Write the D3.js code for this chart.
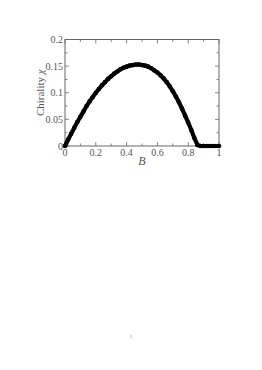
<!DOCTYPE html>
<html>
<head>
<meta charset="utf-8">
<script src="https://cdn.jsdelivr.net/npm/d3@7"></script>
<style>
  body { margin: 0; background: #fff; }
  text { font-family: "Liberation Serif", "DejaVu Serif", serif; fill: #555; }
</style>
</head>
<body>
<div id="chart"></div>
<script>
var bValues = [0, 0.02, 0.04, 0.06, 0.08, 0.10, 0.12, 0.14, 0.16, 0.18,
               0.20, 0.22, 0.24, 0.26, 0.28, 0.30, 0.32, 0.34, 0.36, 0.38,
               0.40, 0.42, 0.44, 0.46, 0.48, 0.50, 0.52, 0.54, 0.56, 0.58,
               0.60, 0.62, 0.64, 0.66, 0.68, 0.70, 0.72, 0.74, 0.76, 0.78,
               0.80, 0.82, 0.84, 0.86, 0.88, 0.90, 0.92, 0.94, 0.96, 0.98, 1.0];
var chirality = [0, 0.012, 0.023, 0.034, 0.045, 0.055, 0.065, 0.075, 0.084, 0.092,
                 0.100, 0.107, 0.114, 0.120, 0.126, 0.131, 0.136, 0.140, 0.144, 0.147,
                 0.149, 0.151, 0.152, 0.153, 0.153, 0.152, 0.151, 0.149, 0.146, 0.142,
                 0.138, 0.133, 0.127, 0.120, 0.112, 0.103, 0.093, 0.082, 0.070, 0.057,
                 0.044, 0.030, 0.015, 0.002, 0, 0, 0, 0, 0, 0, 0];
var xTicks = [0, 0.2, 0.4, 0.6, 0.8, 1];
var xTickLabels = ["0", "0.2", "0.4", "0.6", "0.8", "1"];
var yTicks = [0, 0.05, 0.1, 0.15, 0.2];
var yTickLabels = ["0", "0.05", "0.1", "0.15", "0.2"];

function main() {
    var width = 262, height = 370;
    var left = 65, right = 219, top = 39.5, bottom = 146;
    var svg = d3.select("#chart").append("svg")
                .attr("width", width).attr("height", height);

    var x = d3.scaleLinear().domain([0, 1]).range([left, right]);
    var y = d3.scaleLinear().domain([0, 0.2]).range([bottom, top]);
    var axisColor = "#666";

    // frame
    svg.append("rect").attr("x", left).attr("y", top)
       .attr("width", right - left).attr("height", bottom - top)
       .attr("fill", "none").attr("stroke", axisColor).attr("stroke-width", 1);

    // ticks pointing inward (major + minor)
    var xMinor = d3.range(0, 1.0001, 0.1);
    var yMinor = d3.range(0, 0.2001, 0.025);
    var tg = svg.append("g").attr("stroke", axisColor).attr("stroke-width", 0.8);
    xMinor.forEach(function(v, i) {
        var len = (i % 2 === 0) ? 4 : 2.5;
        tg.append("line").attr("x1", x(v)).attr("x2", x(v)).attr("y1", bottom).attr("y2", bottom - len);
        tg.append("line").attr("x1", x(v)).attr("x2", x(v)).attr("y1", top).attr("y2", top + len);
    });
    yMinor.forEach(function(v, i) {
        var len = (i % 2 === 0) ? 4 : 2.5;
        tg.append("line").attr("x1", left).attr("x2", left + len).attr("y1", y(v)).attr("y2", y(v));
        tg.append("line").attr("x1", right).attr("x2", right - len).attr("y1", y(v)).attr("y2", y(v));
    });

    // tick labels
    svg.append("g").selectAll("text").data(xTicks).enter().append("text")
       .attr("x", function(d) { return x(d); }).attr("y", bottom + 10)
       .attr("text-anchor", "middle").attr("font-size", 10)
       .text(function(d, i) { return xTickLabels[i]; });
    svg.append("g").selectAll("text").data(yTicks).enter().append("text")
       .attr("x", left - 2).attr("y", function(d) { return y(d) + 3.5; })
       .attr("text-anchor", "end").attr("font-size", 10)
       .text(function(d, i) { return yTickLabels[i]; });

    // axis titles
    svg.append("text").attr("x", x(0.5)).attr("y", bottom + 19)
       .attr("text-anchor", "middle").attr("font-size", 12).attr("font-style", "italic")
       .text("B");
    var yl = svg.append("text").attr("transform", "translate(44," + ((top + bottom) / 2) + ") rotate(-90)")
       .attr("text-anchor", "middle").attr("font-size", 11);
    yl.append("tspan").text("Chirality ");
    yl.append("tspan").attr("font-style", "italic").text("χ");

    // data
    var pts = bValues.map(function(b, i) { return [b, chirality[i]]; });
    var line = d3.line().x(function(d) { return x(d[0]); }).y(function(d) { return y(d[1]); });
    svg.append("path").datum(pts).attr("d", line)
       .attr("fill", "none").attr("stroke", "#000").attr("stroke-width", 4.2)
       .attr("stroke-linejoin", "round");
    svg.append("g").selectAll("circle").data(pts).enter().append("circle")
       .attr("cx", function(d) { return x(d[0]); }).attr("cy", function(d) { return y(d[1]); })
       .attr("r", 2.3).attr("fill", "#000");

    // tiny page number
    svg.append("text").attr("x", 131).attr("y", 338).attr("text-anchor", "middle")
       .attr("font-size", 4).text("1");
}
main();
</script>
</body>
</html>
